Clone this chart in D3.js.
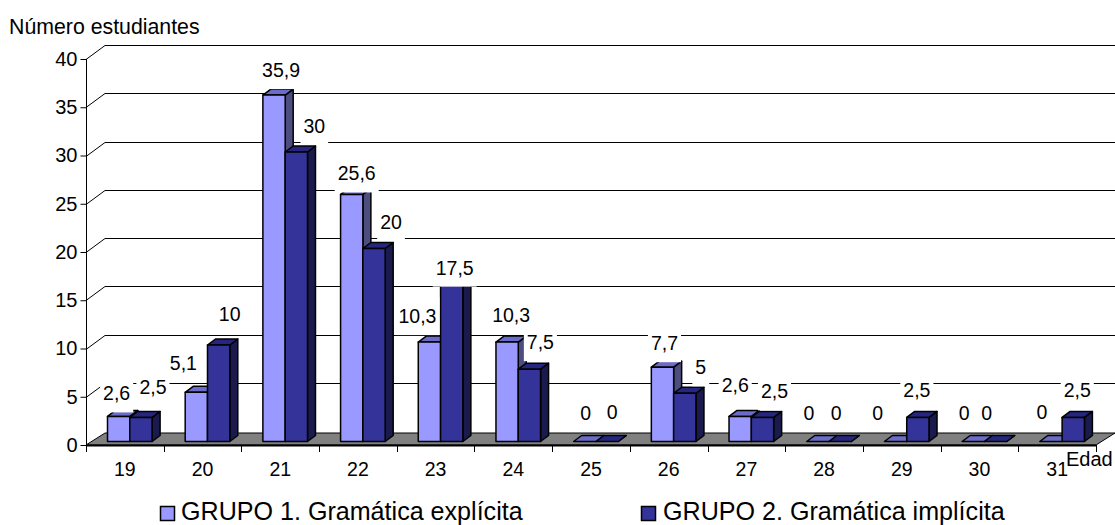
<!DOCTYPE html>
<html lang="es">
<head>
<meta charset="utf-8">
<title>Número estudiantes por edad</title>
<script src="https://cdn.jsdelivr.net/npm/d3@7/dist/d3.min.js"></script>
<style>
html,body{margin:0;padding:0;background:#fff}
svg{display:block}
text{font-family:"Liberation Sans",Arial,sans-serif;fill:#000}
</style>
</head>
<body>
<svg id="chart" width="1115" height="525"></svg>
<script>
// Ages on the horizontal axis and the share of students in each group
const ages = ["19","20","21","22","23","24","25","26","27","28","29","30","31"];
const grupo1 = [2.6,5.1,35.9,25.6,10.3,10.3,0,7.7,2.6,0,0,0,0];
const grupo2 = [2.5,10,30,20,17.5,7.5,0,5,2.5,0,2.5,0,2.5];
const yTicks = [0,5,10,15,20,25,30,35,40];
const seriesNames = ["GRUPO 1. Gramática explícita","GRUPO 2. Gramática implícita"];

// Hand placement of the value labels relative to the top of each bar, [dx, dy]
const nudge1 = [[-2,-23],[-13,-29],[7,-25],[5,-21],[-12,-26],[4,-27],[1,-29],[2,-24],[-5,-31],[-9,-29],[-18,-29],[-9,-29],[-9,-30]];
const nudge2 = [[12,-30],[11,-31],[18,-26],[17,-27],[3,-5],[11,-27],[5,-30],[16,-26],[12,-26],[-4,-29],[-1,-27],[-9,-29],[4,-27]];

const width = 1115, height = 525;
const depthX = 19, depthY = 12;       // shift from the front of the floor to the back wall
const barInX = 21.5, barInY = 3.5;    // front face of a bar sits this far inside its slot
const barDX = 8, barDY = 6;           // depth of a bar
const barW = 22.3;

const palette = [
  {front:"#9999ff", top:"#6b6bc9", side:"#4d4d80"},
  {front:"#333399", top:"#262680", side:"#1a1a4d"}
];

const svg = d3.select("#chart");
const x = d3.scaleBand().domain(ages).range([86,1096]);
const y = d3.scaleLinear().domain([0,40]).range([445,59]);

// Back wall grid lines with their short returns to the value axis
const grid = svg.append("g").attr("fill","none").attr("stroke","#000").attr("stroke-width",1);
yTicks.filter(d => d > 0).forEach(d => {
  const yy = Math.round(y(d)) + 0.5;
  grid.append("path").attr("d", d3.line()([
    [x.range()[0], yy],
    [x.range()[0] + depthX, yy - depthY - 2],
    [width + 2, yy - depthY - 2]
  ]));
});

// Floor
const floorY = y(0);
svg.append("path")
  .attr("d", d3.line()([
    [86,floorY],[86+depthX,floorY-depthY],[1096+depthX,floorY-depthY],[1096,floorY]
  ]) + "Z")
  .attr("fill","#808080").attr("stroke","#000").attr("stroke-width",1);

// Bars, drawn left to right so nearer faces overlap
const barLayer = svg.append("g").attr("stroke","#000").attr("stroke-width",1.5).attr("stroke-linejoin","round");
function drawBar(x0, value, colors){
  const bottom = y(0) - barInY;
  const top = bottom - (y(0) - y(value));
  const x1 = x0 + barW;
  barLayer.append("path").attr("fill",colors.side).attr("d", d3.line()([
    [x1,bottom],[x1+barDX,bottom-barDY],[x1+barDX,top-barDY],[x1,top]])+"Z");
  barLayer.append("path").attr("fill",colors.top).attr("d", d3.line()([
    [x0,top],[x0+barDX,top-barDY],[x1+barDX,top-barDY],[x1,top]])+"Z");
  if (value > 0) {
    barLayer.append("rect").attr("x",x0).attr("y",top)
      .attr("width",barW).attr("height",bottom-top).attr("fill",colors.front);
  }
  return {cx:x0+barW/2, top};
}

const labels = [];
ages.forEach((age,i) => {
  const x0 = x(age) + barInX;
  const a = drawBar(x0, grupo1[i], palette[0]);
  const b = drawBar(x0 + barW, grupo2[i], palette[1]);
  labels.push({v:grupo1[i], cx:a.cx+nudge1[i][0], cy:a.top+nudge1[i][1]});
  labels.push({v:grupo2[i], cx:b.cx+nudge2[i][0], cy:b.top+nudge2[i][1]});
});

// Value labels sit on white plates that mask whatever is behind them
const fmt = v => String(v).replace(".",",");
const labelLayer = svg.append("g");
labels.forEach(l => {
  const g = labelLayer.append("g");
  const plate = g.append("rect").attr("fill","#fff");
  const t = g.append("text").attr("x",l.cx).attr("y",l.cy+7)
    .attr("text-anchor","middle").attr("font-size",19.5).text(fmt(l.v));
  const w = t.node().getComputedTextLength() + 6;
  plate.attr("x",l.cx-w/2).attr("width",w).attr("y",l.cy-19).attr("height",38);
});

// Axes
const yAxis = svg.append("g").attr("transform","translate(86.5,0)")
  .call(d3.axisLeft(y).tickValues(yTicks).tickSize(6).tickPadding(3));
const xAxis = svg.append("g").attr("transform",`translate(0,${Math.round(floorY)+0.5})`)
  .call(d3.axisBottom(x).tickSize(0).tickPadding(30));
xAxis.selectAll("text").attr("font-size",19.5).attr("dy",0);
yAxis.selectAll("text").attr("font-size",20).attr("font-family",null);
xAxis.selectAll("text").attr("font-family",null);
svg.selectAll(".domain").attr("stroke","#000");
yAxis.select(".domain").attr("d",`M0,${y(40)}V${floorY+7}`);
xAxis.select(".domain").attr("d","M86,0H1096").attr("stroke-width",2);

// Category separators along the floor edge
const sep = [...ages.map(a => x(a)), x.range()[1]];
svg.append("g").selectAll("line").data(sep).join("line")
  .attr("x1",d=>Math.round(d)+0.5).attr("x2",d=>Math.round(d)+0.5)
  .attr("y1",floorY).attr("y2",floorY+7).attr("stroke","#000");

// Axis titles
svg.append("text").attr("x",9).attr("y",34).attr("font-size",21.3).text("Número estudiantes");
svg.append("text").attr("x",1066).attr("y",466).attr("font-size",20).text("Edad");

// Legend
const legendX = [160, 641];
const legendTextX = [181, 663];
seriesNames.forEach((name,i) => {
  svg.append("rect").attr("x",legendX[i]+0.5).attr("y",506.5).attr("width",14).attr("height",14)
    .attr("fill",palette[i].front).attr("stroke","#000").attr("stroke-width",1.5);
  svg.append("text").attr("x",legendTextX[i]).attr("y",520).attr("font-size",25.1).text(name);
});
</script>
</body>
</html>
